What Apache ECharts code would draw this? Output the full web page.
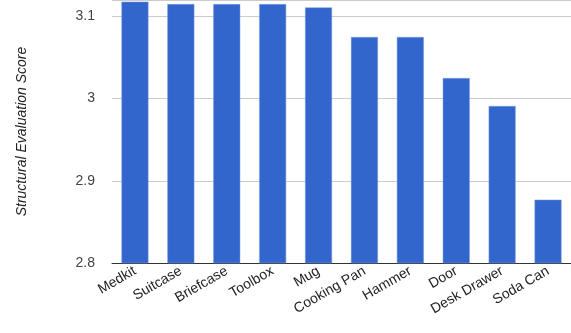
<!DOCTYPE html>
<html>
<head>
<meta charset="utf-8">
<script src="https://cdn.jsdelivr.net/npm/echarts@6/dist/echarts.min.js"></script>
<style>
  html, body { margin: 0; padding: 0; background: #fff; }
  #chart { width: 571px; height: 333px; }
</style>
</head>
<body>
<div id="chart"></div>
<script>
// Objects and their structural evaluation scores
const categories = ['Medkit', 'Suitcase', 'Briefcase', 'Toolbox', 'Mug', 'Cooking Pan', 'Hammer', 'Door', 'Desk Drawer', 'Soda Can'];
const scores = [3.118, 3.115, 3.115, 3.115, 3.111, 3.075, 3.075, 3.025, 2.991, 2.877];
const yTicks = [2.8, 2.9, 3, 3.1];

const chart = echarts.init(document.getElementById('chart'), null, { renderer: 'canvas' });

chart.setOption({
  animation: false,
  backgroundColor: '#ffffff',
  grid: { left: 112, right: -8, top: -1, bottom: 70, containLabel: false },
  xAxis: {
    type: 'category',
    data: categories,
    axisLine: { show: true, lineStyle: { color: '#333333', width: 1 } },
    axisTick: { show: false },
    axisLabel: {
      interval: 0,
      rotate: 30,
      margin: 7,
      color: '#222222',
      fontFamily: 'Arial, Liberation Sans, sans-serif',
      fontSize: 14
    }
  },
  yAxis: {
    type: 'value',
    min: 2.8,
    max: 3.12,
    interval: 0.1,
    name: 'Structural Evaluation Score',
    nameLocation: 'middle',
    nameGap: 83,
    nameTextStyle: {
      color: '#222222',
      fontStyle: 'italic',
      fontFamily: 'Arial, Liberation Sans, sans-serif',
      fontSize: 14
    },
    axisLine: { show: false },
    axisTick: { show: false },
    splitLine: { show: true, lineStyle: { color: '#cccccc', width: 1 } },
    axisLabel: {
      margin: 17,
      color: '#444444',
      fontFamily: 'Arial, Liberation Sans, sans-serif',
      fontSize: 14,
      showMaxLabel: false,
      formatter: function (v) {
        const hit = yTicks.find(t => Math.abs(t - v) < 1e-6);
        return hit === undefined ? '' : String(hit);
      }
    }
  },
  series: [{
    type: 'bar',
    data: scores,
    barWidth: 27,
    itemStyle: { color: '#3366cc', borderColor: '#7f9fe0', borderWidth: 0.5 }
  }]
});
</script>
</body>
</html>
